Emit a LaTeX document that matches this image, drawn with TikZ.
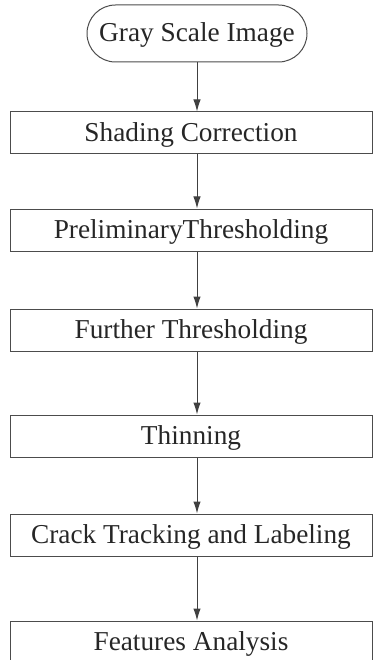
\documentclass[tikz,border=0pt]{standalone}
\usepackage{fontspec}
\setmainfont{Liberation Serif}
\usetikzlibrary{shapes,arrows.meta}
\usetikzlibrary{positioning}
\tikzstyle{block} = [rectangle, draw=black!70, line width=1pt, text=black!85,
    minimum width=362pt, minimum height=42pt, inner sep=0pt, text height=23.5pt, text depth=6.5pt,
    font=\fontsize{27.3}{30}\selectfont]
\tikzstyle{terminal} = [rounded rectangle, draw=black!70, line width=1pt, text=black!85,
    minimum width=220pt, minimum height=57pt, inner sep=0pt, text height=23.5pt, text depth=6.5pt,
    font=\fontsize{27.3}{30}\selectfont]
\tikzstyle{line} = [draw=black!75, -{Latex[length=12pt,width=7.5pt]}, line width=1pt]

\begin{document}
\begin{tikzpicture}[x=1pt, y=1pt]
    \useasboundingbox (0,0) rectangle (374,-660);
    % Place nodes
    \node [terminal] (gray) at (197,-33.5) {Gray Scale Image};
    \node [block, below=49pt of gray, xshift=-6pt] (shading) {Shading Correction};
    \node [block, below=54pt of shading] (prelim) {PreliminaryThresholding};
    \node [block, below=57pt of prelim] (further) {Further Thresholding};
    \node [block, below=63pt of further] (thinning) {Thinning};
    \node [block, below=56pt of thinning] (tracking) {Crack Tracking and Labeling};
    \node [block, below=64pt of tracking] (features) {Features Analysis};

    % Draw edges
    \path [line] (gray) -- (gray.south |- shading.north);
    \path [line] (shading.south -| gray.south) -- (prelim.north -| gray.south);
    \path [line] (prelim.south -| gray.south) -- (further.north -| gray.south);
    \path [line] (further.south -| gray.south) -- (thinning.north -| gray.south);
    \path [line] (thinning.south -| gray.south) -- (tracking.north -| gray.south);
    \path [line] (tracking.south -| gray.south) -- (features.north -| gray.south);
\end{tikzpicture}
\end{document}
